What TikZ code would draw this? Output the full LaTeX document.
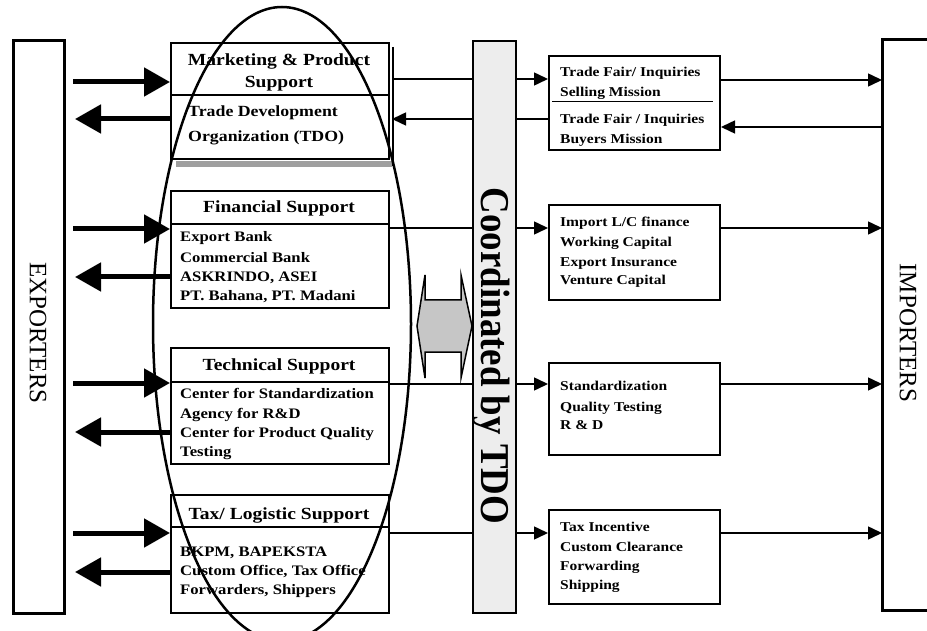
\documentclass[tikz,border=0pt]{standalone}
\usepackage{fontspec}
\setmainfont{Liberation Serif}
\newfontfamily\bw[FakeStretch=1.15]{Liberation Serif}
\newfontfamily\cbar[FakeStretch=0.9]{Liberation Serif}
\usetikzlibrary{arrows.meta}
\tikzset{
  box/.style={draw, line width=2pt, fill=white, inner sep=0pt, anchor=north west},
  divider/.style={line width=1.2pt},
  hdr/.style={inner sep=0pt, anchor=base, font=\bw\bfseries\fontsize{17}{20}\selectfont},
  lbody/.style={inner sep=0pt, anchor=base west, font=\bw\bfseries\fontsize{14.5}{17}\selectfont},
  tbody/.style={inner sep=0pt, anchor=base west, font=\bw\bfseries\fontsize{15.5}{18}\selectfont},
  rbody/.style={inner sep=0pt, anchor=base west, font=\bw\bfseries\fontsize{13.5}{16}\selectfont},
  side/.style={inner sep=0pt, rotate=-90, font=\fontsize{25}{28}\selectfont},
  fat/.style={line width=5pt, -{Triangle[length=26pt,width=28pt]}},
  thinarr/.style={line width=1.5pt, -{Triangle[length=14pt,width=13pt]}},
  conn/.style={line width=1.5pt},
}
\begin{document}
\begin{tikzpicture}[x=1pt,y=-1pt]
\useasboundingbox (0,0) rectangle (927,631);

% exporters / importers
\node[draw, line width=3pt, inner sep=0pt, anchor=north west, minimum width=51pt, minimum height=573pt] (exp) at (12,39) {};
\node[side] (expt) at (38,333) {EXPORTERS};
\draw[line width=3pt] (935,40) -- (882,40) -- (882,610) -- (935,610);
\coordinate (imp) at (882,325);
\node[side] (impt) at (908,333) {IMPORTERS};

% coordination bar
\node[draw, line width=2pt, fill=gray!14, inner sep=0pt, anchor=north west, minimum width=43pt, minimum height=572pt] (bar) at (472,40) {};
\node[inner sep=0pt, anchor=base, rotate=-90, font=\cbar\bfseries\fontsize{41}{44}\selectfont] (bart) at (481,356) {Coordinated by TDO};

% box 1 shadow
\fill[gray!75] (176,161) rectangle (392,167);
\draw[line width=2.5pt] (393,47) -- (393,166);

% left boxes
\node[box, minimum width=218pt, minimum height=116pt] (b1) at (170,42) {};
\draw[divider] (b1.west |- 0,95) -- (b1.east |- 0,95);
\node[hdr] (b1h1) at (279,66) {Marketing \& Product};
\node[hdr] (b1h2) at (279,88) {Support};
\node[tbody] (b1t1) at (188,117) {Trade Development};
\node[tbody] (b1t2) at (188,142) {Organization (TDO)};

\node[box, minimum width=218pt, minimum height=117pt] (b2) at (170,190) {};
\draw[divider] (b2.west |- 0,224) -- (b2.east |- 0,224);
\node[hdr] (b2h) at (279,213) {Financial Support};
\node[lbody] (b2t1) at (180,242) {Export Bank};
\node[lbody] (b2t2) at (180,263) {Commercial Bank};
\node[lbody] (b2t3) at (180,282) {ASKRINDO, ASEI};
\node[lbody] (b2t4) at (180,301) {PT. Bahana, PT. Madani};

\node[box, minimum width=218pt, minimum height=116pt] (b3) at (170,347) {};
\draw[divider] (b3.west |- 0,382) -- (b3.east |- 0,382);
\node[hdr] (b3h) at (279,370) {Technical Support};
\node[lbody] (b3t1) at (180,398) {Center for Standardization};
\node[lbody] (b3t2) at (180,418) {Agency for R\&D};
\node[lbody] (b3t3) at (180,437) {Center for Product Quality};
\node[lbody] (b3t4) at (180,456) {Testing};

\node[box, minimum width=218pt, minimum height=118pt] (b4) at (170,494) {};
\draw[divider] (b4.west |- 0,527) -- (b4.east |- 0,527);
\node[hdr] (b4h) at (279,519) {Tax/ Logistic Support};
\node[lbody] (b4t1) at (180,556) {BKPM, BAPEKSTA};
\node[lbody] (b4t2) at (180,575) {Custom Office, Tax Office};
\node[lbody] (b4t3) at (180,594) {Forwarders, Shippers};

% right boxes
\node[box, minimum width=171pt, minimum height=94pt] (r1) at (548,55) {};
\draw[line width=1pt] (552,102) -- (713,102);
\node[rbody] (r1t1) at (560,77) {Trade Fair/ Inquiries};
\node[rbody] (r1t2) at (560,97) {Selling Mission};
\node[rbody] (r1t3) at (560,124) {Trade Fair / Inquiries};
\node[rbody] (r1t4) at (560,144) {Buyers Mission};

\node[box, minimum width=171pt, minimum height=95pt] (r2) at (548,204) {};
\node[rbody] (r2t1) at (560,227) {Import L/C finance};
\node[rbody] (r2t2) at (560,247) {Working Capital};
\node[rbody] (r2t3) at (560,267) {Export Insurance};
\node[rbody] (r2t4) at (560,285) {Venture Capital};

\node[box, minimum width=171pt, minimum height=92pt] (r3) at (548,362) {};
\node[rbody] (r3t1) at (560,390) {Standardization};
\node[rbody] (r3t2) at (560,411) {Quality Testing};
\node[rbody] (r3t3) at (560,429) {R \& D};

\node[box, minimum width=171pt, minimum height=94pt] (r4) at (548,509) {};
\node[rbody] (r4t1) at (560,531) {Tax Incentive};
\node[rbody] (r4t2) at (560,551) {Custom Clearance};
\node[rbody] (r4t3) at (560,570) {Forwarding};
\node[rbody] (r4t4) at (560,589) {Shipping};

% thick arrows exporters <-> boxes
\draw[fat] (exp.east |- 0,82) ++(7,0) -- (b1.west |- 0,82);
\draw[fat] (b1.west |- 0,119) -- ([xshift=9pt]exp.east |- 0,119);
\draw[fat] (exp.east |- 0,229) ++(7,0) -- (b2.west |- 0,229);
\draw[fat] (b2.west |- 0,277) -- ([xshift=9pt]exp.east |- 0,277);
\draw[fat] (exp.east |- 0,383) ++(7,0) -- (b3.west |- 0,383);
\draw[fat] (b3.west |- 0,432) -- ([xshift=9pt]exp.east |- 0,432);
\draw[fat] (exp.east |- 0,533) ++(7,0) -- (b4.west |- 0,533);
\draw[fat] (b4.west |- 0,572) -- ([xshift=9pt]exp.east |- 0,572);

% thin connectors through the bar
\draw[conn] (394,79) -- (bar.west |- 0,79);
\draw[thinarr] (bar.east |- 0,79) -- (r1.west |- 0,79);
\draw[conn] (r1.west |- 0,119) -- (bar.east |- 0,119);
\draw[thinarr] (bar.west |- 0,119) -- (392,119);
\draw[conn] (b2.east |- 0,228) -- (bar.west |- 0,228);
\draw[thinarr] (bar.east |- 0,228) -- (r2.west |- 0,228);
\draw[conn] (b3.east |- 0,384) -- (bar.west |- 0,384);
\draw[thinarr] (bar.east |- 0,384) -- (r3.west |- 0,384);
\draw[conn] (b4.east |- 0,533) -- (bar.west |- 0,533);
\draw[thinarr] (bar.east |- 0,533) -- (r4.west |- 0,533);

% to / from importers
\draw[thinarr] (r1.east |- 0,80) -- (imp |- 0,80);
\draw[thinarr] (imp |- 0,127) -- (r1.east |- 0,127);
\draw[thinarr] (r2.east |- 0,228) -- (imp |- 0,228);
\draw[thinarr] (r3.east |- 0,384) -- (imp |- 0,384);
\draw[thinarr] (r4.east |- 0,533) -- (imp |- 0,533);

% double-headed exchange arrow
\draw[line width=1.5pt, fill=gray!45, line join=miter]
  (417,326) -- (425,275) -- (425,300) -- (461,300) -- (461,275) -- (472,326)
  -- (461,378) -- (461,352) -- (425,352) -- (425,378) -- cycle;

% ellipse
\draw[line width=2.5pt] (282,324) ellipse [x radius=129, y radius=317];
\end{tikzpicture}
\end{document}
